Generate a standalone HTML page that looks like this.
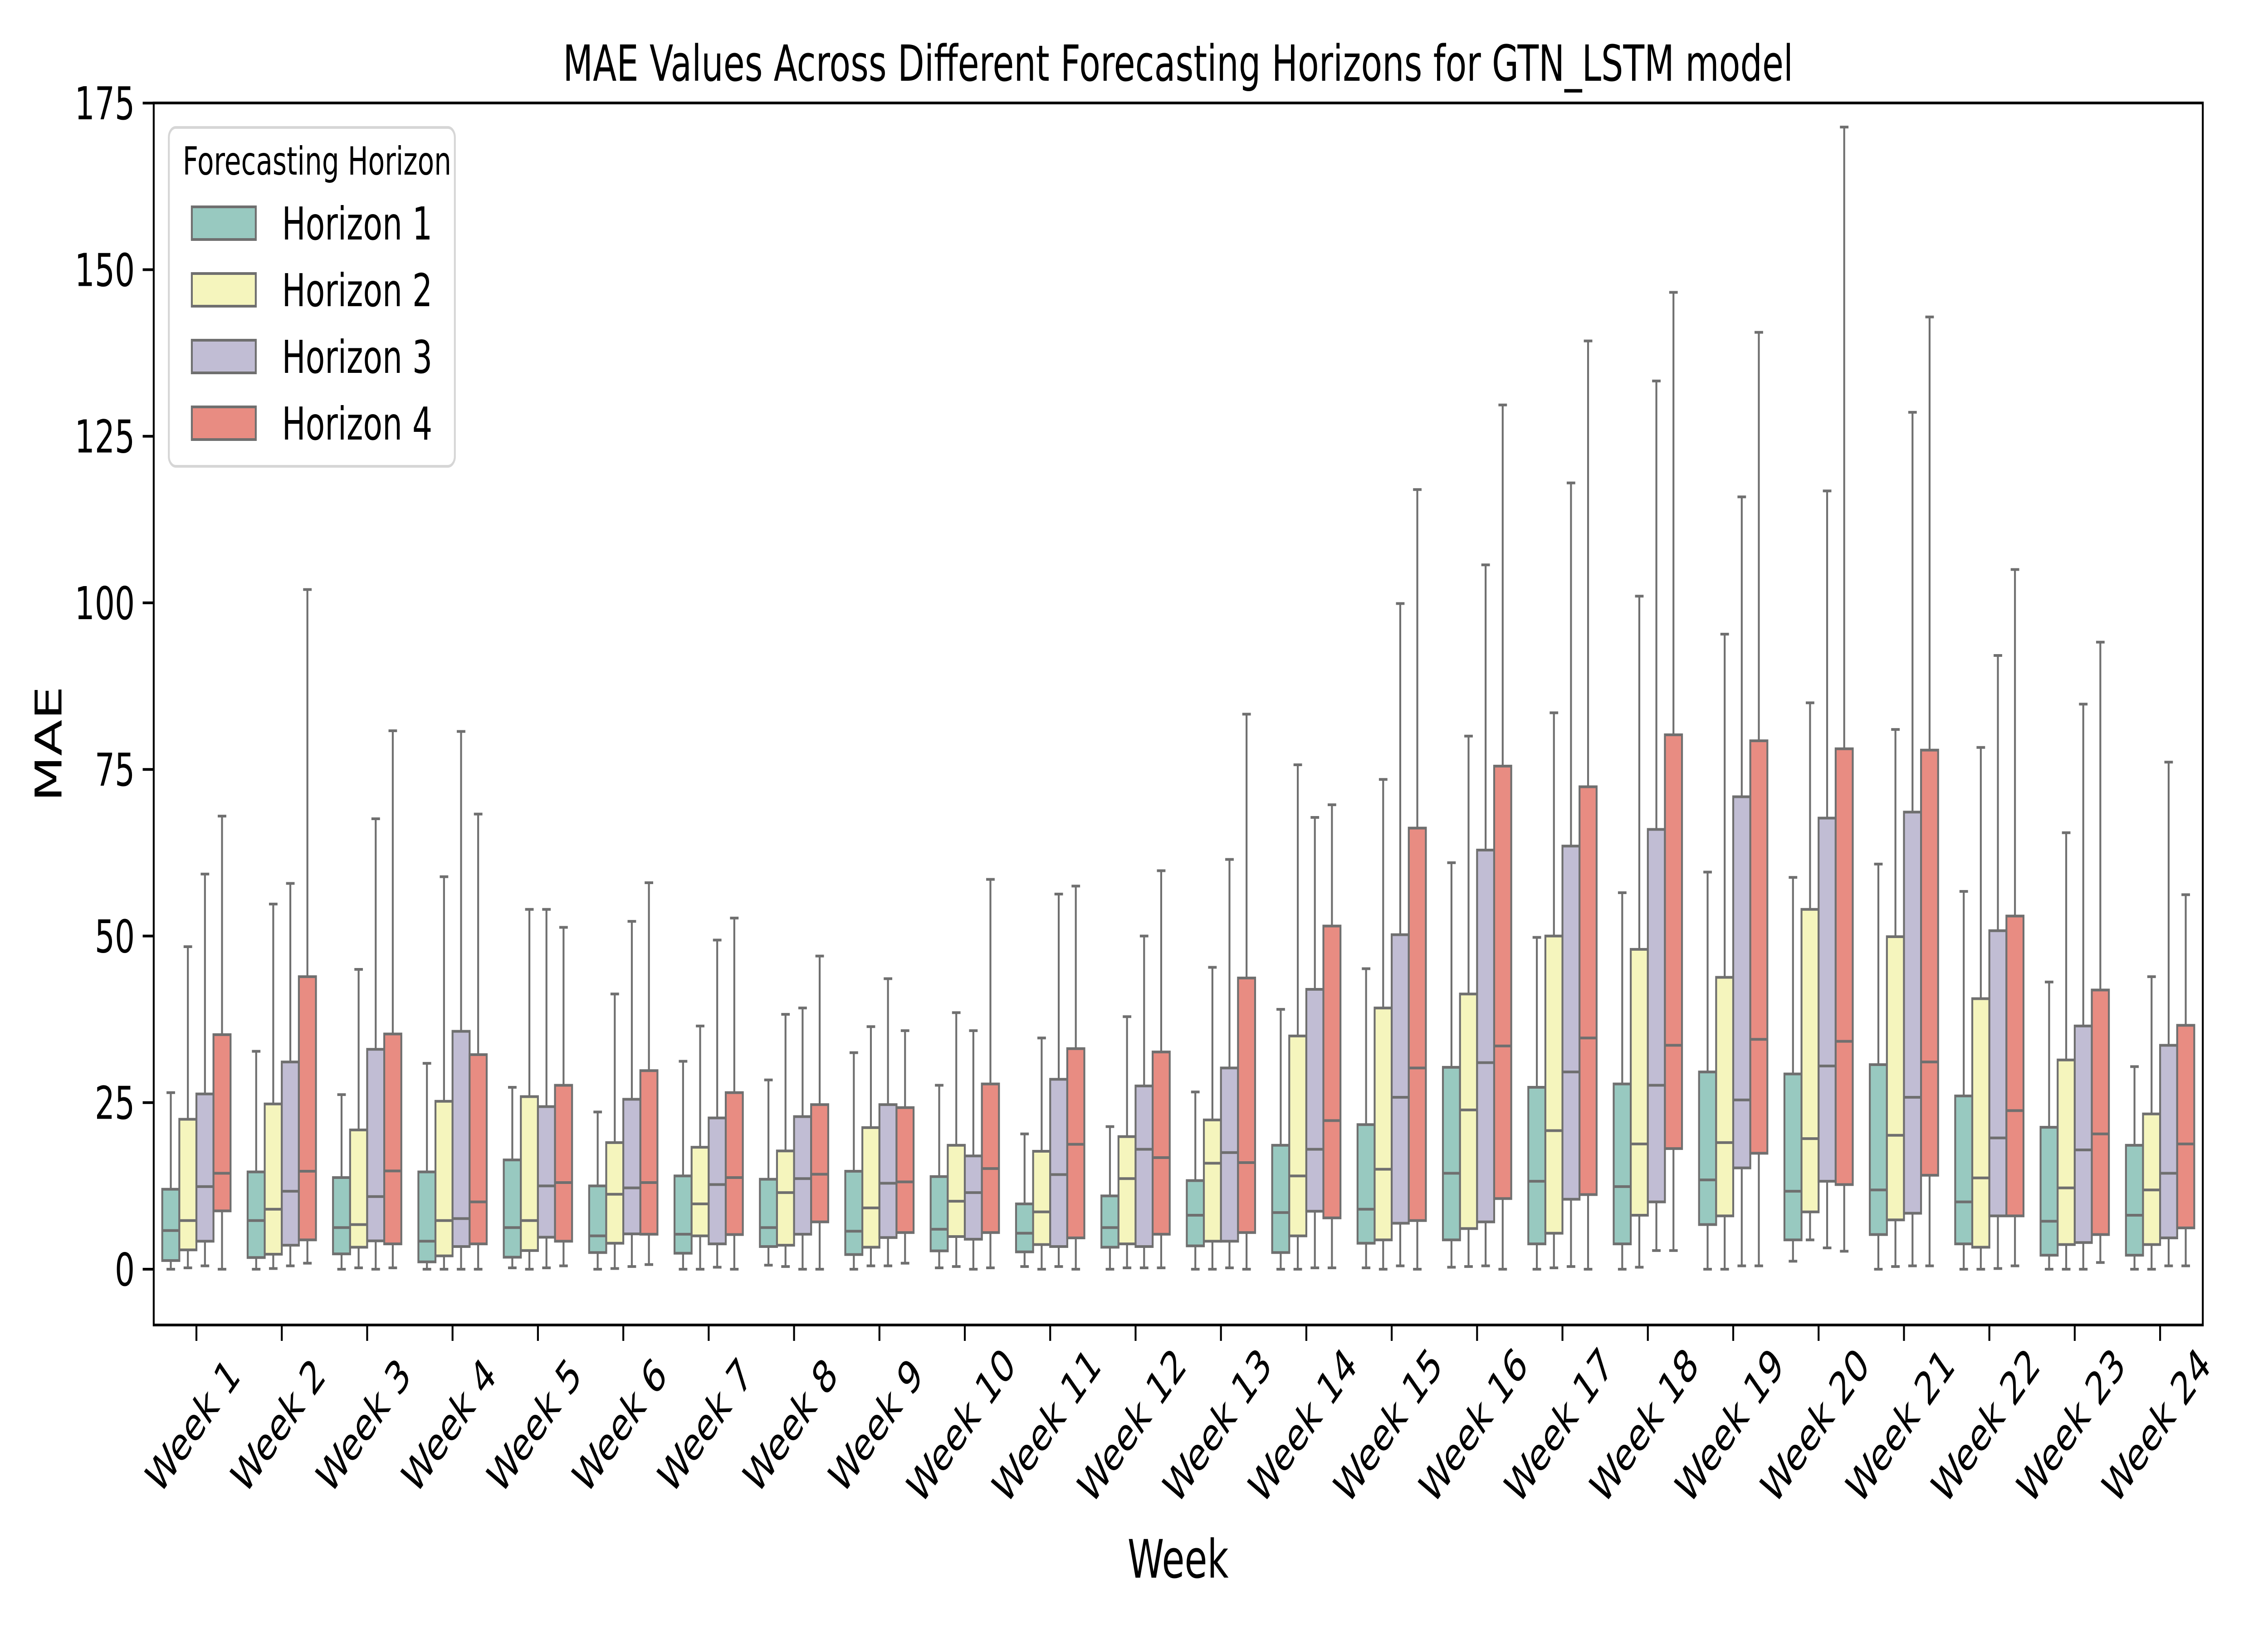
<!DOCTYPE html>
<html><head><meta charset="utf-8"><style>
html,body{margin:0;padding:0;background:#fff;width:100%;height:100%;overflow:hidden;}
svg{display:block;width:100vw;height:100vh;font-family:"DejaVu Sans","Liberation Sans",sans-serif;}
</style></head>
<body>
<svg id="chart" viewBox="0 0 7200 3600" preserveAspectRatio="none" xmlns="http://www.w3.org/2000/svg">
<rect x="0" y="0" width="7200" height="3600" fill="#fff"/>
<text x="3740" y="178" font-size="110" text-anchor="middle">MAE Values Across Different Forecasting Horizons for GTN_LSTM model</text>
<g id="plot"></g>
<text x="3740" y="3478" font-size="117" text-anchor="middle">Week</text>
<text x="0" y="0" font-size="117" text-anchor="middle" transform="translate(195,1640) rotate(-90)">MAE</text>
<g>
<rect x="536" y="281" width="908" height="747" rx="22" fill="#fff" fill-opacity="0.8" stroke="#d6d6d6" stroke-width="6"/>
<text x="580" y="385" font-size="86">Forecasting Horizon</text>
<g><rect x="609" y="456" width="203" height="72" fill="#98c9c0" stroke="#6f6f6f" stroke-width="6"/><text x="895" y="528" font-size="100">Horizon 1</text></g>
<g><rect x="609" y="603" width="203" height="72" fill="#f5f5bd" stroke="#6f6f6f" stroke-width="6"/><text x="895" y="675" font-size="100">Horizon 2</text></g>
<g><rect x="609" y="750" width="203" height="72" fill="#c1bdd4" stroke="#6f6f6f" stroke-width="6"/><text x="895" y="822" font-size="100">Horizon 3</text></g>
<g><rect x="609" y="897" width="203" height="72" fill="#e88c82" stroke="#6f6f6f" stroke-width="6"/><text x="895" y="969" font-size="100">Horizon 4</text></g>
</g>
</svg>
<script>
const weeks = Array.from({length:24},(_,i)=>"Week "+(i+1));
const yTicks = [0,25,50,75,100,125,150,175];
const horizonNames = ["Horizon 1","Horizon 2","Horizon 3","Horizon 4"];

const lowH1 = [0,0,0,0,0.2,0,0,0.6,0,0.2,0.4,0,0,0,0.2,0.3,0,0,0,1.2,0,0,0,0];
const q1H1  = [1.3,1.75,2.3,1.1,1.8,2.5,2.4,3.4,2.2,2.75,2.6,3.3,3.5,2.5,3.9,4.4,3.8,3.8,6.7,4.4,5.2,3.8,2.1,2.1];
const medH1 = [5.8,7.3,6.25,4.2,6.25,5,5.25,6.25,5.7,6,5.4,6.25,8.1,8.5,9,14.4,13.2,12.4,13.4,11.7,11.9,10.1,7.2,8.1];
const q3H1  = [12,14.6,13.75,14.6,16.4,12.5,14,13.5,14.7,13.9,9.8,11,13.3,18.6,21.7,30.3,27.3,27.8,29.6,29.3,30.7,26,21.3,18.6];
const highH1= [26.5,32.7,26.2,30.9,27.3,23.6,31.2,28.4,32.5,27.6,20.3,21.4,26.6,39,45.1,61,49.8,56.5,59.6,58.8,60.8,56.7,43.1,30.4];

const lowH2 = [0.2,0.1,0.2,0,0,0.1,0,0.4,0.5,0.4,0,0.2,0,0,0,0.4,0.2,0.3,0,4.4,0.4,0,0,0];
const q1H2  = [2.9,2.25,3.3,2,2.8,3.9,5,3.6,3.3,4.9,3.7,3.8,4.2,5,4.4,6.1,5.4,8.1,8,8.6,7.4,3.3,3.7,3.7];
const medH2 = [7.3,9,6.7,7.3,7.3,11.25,9.8,11.5,9.2,10.2,8.6,13.6,15.9,14,15,23.9,20.8,18.8,19,19.6,20.1,13.7,12.2,11.9];
const q3H2  = [22.5,24.8,20.9,25.2,25.9,19,18.3,17.75,21.25,18.6,17.7,19.9,22.4,35,39.2,41.3,50,48,43.8,54,49.9,40.6,31.4,23.3];
const highH2= [48.4,54.8,45,58.9,54,41.3,36.5,38.25,36.4,38.5,34.7,37.9,45.3,75.7,73.5,80,83.5,101,95.3,85,81,78.3,65.5,43.9];

const lowH3 = [0.5,0.5,0,0,0.2,0.4,0.3,0,0.5,0,0.4,0.2,0.2,0.2,0.5,0.5,0.4,2.8,0.5,3.2,0.5,0.1,0,0.5];
const q1H3  = [4.2,3.6,4.25,3.4,4.8,5.3,3.8,5.25,4.75,4.5,3.4,3.4,4.2,8.7,6.9,7.1,10.5,10.1,15.2,13.2,8.4,8,4,4.7];
const medH3 = [12.4,11.7,10.9,7.6,12.5,12.2,12.7,13.6,12.9,11.5,14.2,18,17.5,18,25.8,31,29.6,27.6,25.4,30.5,25.8,19.7,17.9,14.4];
const q3H3  = [26.3,31.1,33,35.7,24.4,25.5,22.7,22.9,24.7,17,28.5,27.5,30.2,42,50.2,62.9,63.5,66,70.9,67.7,68.6,50.8,36.5,33.6];
const highH3= [59.3,57.9,67.6,80.7,54,52.2,49.4,39.2,43.6,35.8,56.3,50,61.5,67.8,99.9,105.7,118,133.3,115.9,116.8,128.6,92.1,84.8,76.1];

const lowH4 = [0,0.9,0.2,0,0.5,0.7,0,0,0.9,0.2,0,0.2,0,0.2,0,0,0,2.8,0.5,2.7,0.5,0.5,1,0.5];
const q1H4  = [8.75,4.4,3.8,3.8,4.2,5.25,5.2,7.1,5.5,5.5,4.7,5.25,5.5,7.7,7.3,10.6,11.2,18.1,17.4,12.7,14.1,8,5.2,6.2];
const medH4 = [14.4,14.7,14.75,10.1,13,13,13.75,14.25,13.1,15.1,18.75,16.75,16,22.3,30.2,33.5,34.7,33.6,34.5,34.2,31.1,23.8,20.3,18.8];
const q3H4  = [35.2,43.9,35.3,32.2,27.6,29.8,26.5,24.7,24.25,27.8,33.1,32.6,43.7,51.5,66.2,75.5,72.4,80.2,79.3,78.1,77.9,53,41.9,36.6];
const highH4= [68,102,80.8,68.3,51.3,58,52.7,47,35.8,58.5,57.5,59.8,83.3,69.7,117,129.7,139.3,146.6,140.6,171.4,142.9,105,94.1,56.2];

const NS="http://www.w3.org/2000/svg";
const L=488, R=6993, T=227, B=2921;
const Y0=2798, PX=14.69;
function yScale(v){return Y0 - v*PX;}
const band=(R-L)/weeks.length;
function xScale(i){return L + band*(i+0.5);}
const boxW=band*0.8/4;
const fills=["#98c9c0","#f5f5bd","#c1bdd4","#e88c82"];
const series=[[lowH1,q1H1,medH1,q3H1,highH1],[lowH2,q1H2,medH2,q3H2,highH2],[lowH3,q1H3,medH3,q3H3,highH3],[lowH4,q1H4,medH4,q3H4,highH4]];
const plot=document.getElementById('plot');
function mk(tag,attrs,parent){const e=document.createElementNS(NS,tag);for(const k in attrs)e.setAttribute(k,attrs[k]);(parent||plot).appendChild(e);return e;}

series.forEach((s,h)=>{
  const g=mk('g',{});
  
  
  weeks.forEach((w,i)=>{
    const cx=xScale(i)+(h-1.5)*boxW;
    const lo=yScale(s[0][i]),q1=yScale(s[1][i]),md=yScale(s[2][i]),q3=yScale(s[3][i]),hi=yScale(s[4][i]);
    const bg=mk('g',{},g);
    
    
    mk('line',{x1:cx,x2:cx,y1:q3,y2:hi,stroke:'#6f6f6f','stroke-width':6},bg);
    mk('line',{x1:cx,x2:cx,y1:q1,y2:lo,stroke:'#6f6f6f','stroke-width':6},bg);
    mk('line',{x1:cx-boxW/4,x2:cx+boxW/4,y1:hi,y2:hi,stroke:'#6f6f6f','stroke-width':6},bg);
    mk('line',{x1:cx-boxW/4,x2:cx+boxW/4,y1:lo,y2:lo,stroke:'#6f6f6f','stroke-width':6},bg);
    mk('rect',{x:cx-boxW/2,y:q3,width:boxW,height:Math.max(q1-q3,0.5),fill:fills[h],stroke:'#6f6f6f','stroke-width':6},bg);
    mk('line',{x1:cx-boxW/2,x2:cx+boxW/2,y1:md,y2:md,stroke:'#6f6f6f','stroke-width':6},bg);
  });
});

const frame=mk('rect',{x:L,y:T,width:R-L,height:B-T,fill:'none',stroke:'#000','stroke-width':6});



yTicks.forEach(v=>{
  const y=yScale(v);
  const t=mk('line',{x1:L-35,x2:L,y1:y,y2:y,stroke:'#000','stroke-width':6});
  
  
  const tx=mk('text',{x:L-60,y:y+36,'font-size':100,'text-anchor':'end'});
  tx.textContent=String(v);
  
  
});

weeks.forEach((w,i)=>{
  const x=xScale(i);
  const t=mk('line',{x1:x,x2:x,y1:B,y2:B+35,stroke:'#000','stroke-width':6});
  
  
  const cx=x-12, cy=3142;
  const tx=mk('text',{x:cx,y:cy+36,'font-size':100,'text-anchor':'middle',transform:'rotate(-45 '+cx+' '+cy+')'});
  tx.textContent=w;
  
  
});
</script>
</body></html>
